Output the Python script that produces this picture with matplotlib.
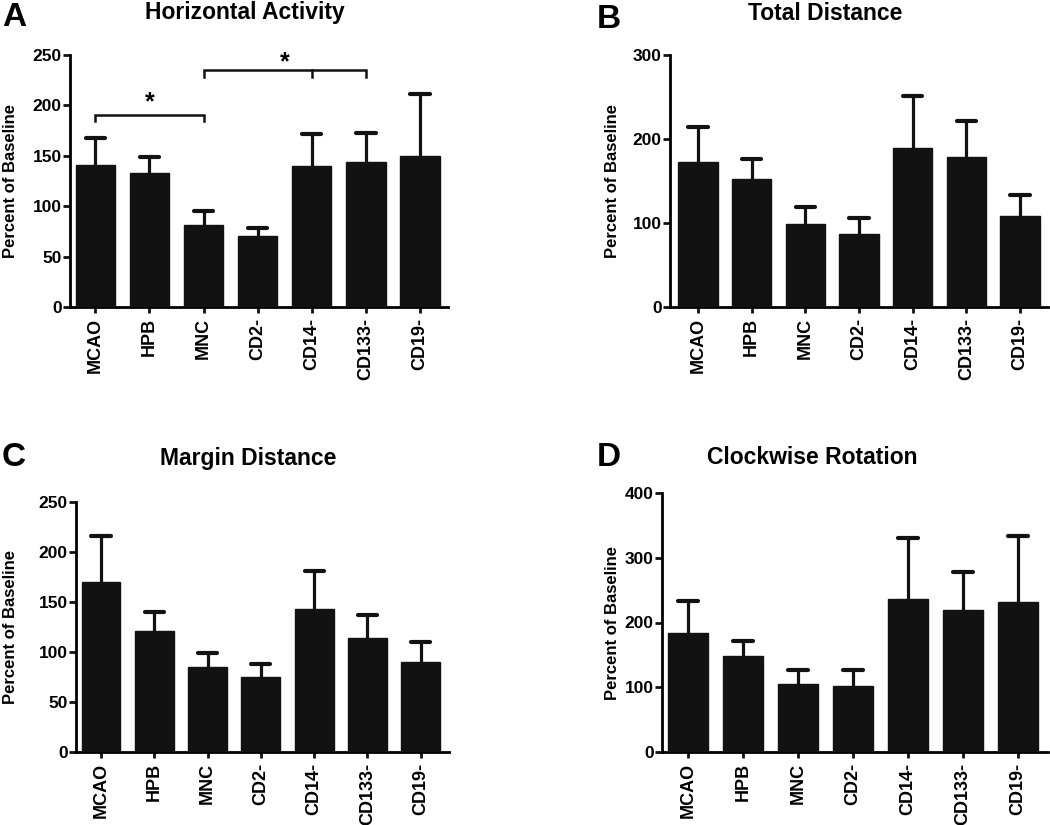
import matplotlib
matplotlib.use("Agg")
import matplotlib.pyplot as plt
import numpy as np

plt.rcParams['font.family'] = ['Liberation Sans', 'DejaVu Sans']

categories = ["MCAO", "HPB", "MNC", "CD2-", "CD14-", "CD133-", "CD19-"]

A_mean = [141, 133, 81, 70, 140, 144, 150]
A_top = [168, 149, 95, 78, 172, 173, 211]
B_mean = [173, 152, 99, 87, 189, 178, 108]
B_top = [214, 176, 119, 106, 251, 221, 133]
C_mean = [170, 121, 85, 75, 143, 114, 90]
C_top = [216, 140, 99, 88, 181, 137, 110]
D_mean = [184, 148, 105, 102, 237, 219, 232]
D_top = [233, 172, 127, 126, 330, 278, 334]

titles = ["Horizontal Activity", "Total Distance", "Margin Distance", "Clockwise Rotation"]
letters = ["A", "B", "C", "D"]
ymaxes = [250, 300, 250, 400]
ysteps = [50, 100, 50, 100]

# significance brackets in panel A: (start idx, end idx, middle ticks, bracket y, tick bottom y, star y)
brackets = [(0, 2, [], 190, 185, 203), (2, 5, [4], 235, 228, 243)]

fig = plt.figure(figsize=(10.5, 8.25), dpi=100)

W, H = 1050, 825
# axes pixel boxes: left, right, top, bottom
boxes = [(70, 448, 55, 307), (670, 1048, 55, 307), (76, 449, 502, 752), (662, 1048, 493, 752)]
xlims = [(-0.47, 6.52), (-0.52, 6.52), (-0.47, 6.53), (-0.47, 6.55)]
ylabel_x = [-0.138, -0.132, -0.155, -0.109]
title_pos = [(245, 13), (825, 13), (248, 458), (812, 458)]
letter_pos = [(2, 18), (597, 19), (2, 458), (597, 458)]

data = [(A_mean, A_top), (B_mean, B_top), (C_mean, C_top), (D_mean, D_top)]
bar_color = "#121212"
x = np.arange(len(categories))
cap_half = 0.18

for i in range(4):
    l, r, t, b = boxes[i]
    ax = fig.add_axes([l / W, 1 - b / H, (r - l) / W, (b - t) / H])
    mean, top = data[i]
    mean = np.array(mean)
    top = np.array(top)
    ax.vlines(x, mean - 1, top, colors=bar_color, linewidth=2.3, zorder=2)
    ax.hlines(top, x - cap_half, x + cap_half, colors=bar_color, linewidth=3.0,
              zorder=2, capstyle='round')
    ax.bar(x, mean, width=0.73, color=bar_color, edgecolor=bar_color, linewidth=1, zorder=3)
    ax.set_xlim(*xlims[i])
    ax.set_ylim(0, ymaxes[i])
    ax.set_yticks(np.arange(0, ymaxes[i] + 1, ysteps[i]))
    ax.set_xticks(x)
    ax.set_xticklabels(categories, rotation=90, fontweight='bold', fontsize=13)
    for lab in ax.get_yticklabels():
        lab.set_fontweight('bold')
        lab.set_fontsize(12.5)
    ax.spines['top'].set_visible(False)
    ax.spines['right'].set_visible(False)
    ax.spines['left'].set_linewidth(2)
    ax.spines['bottom'].set_linewidth(2)
    ax.tick_params(axis='y', width=2, length=5, pad=1, color='#111111')
    ax.tick_params(axis='x', width=2, length=4.5, pad=3, color='#111111')
    ax.set_ylabel("Percent of Baseline", fontsize=12, fontweight='bold')
    ax.yaxis.set_label_coords(ylabel_x[i], 0.5)
    tx, ty = title_pos[i]
    fig.text(tx / W, 1 - ty / H, titles[i], ha='center', va='center',
             fontsize=16.5, fontweight='bold')
    lx, ly = letter_pos[i]
    fig.text(lx / W, 1 - ly / H, letters[i], ha='left', va='center',
             fontsize=24, fontweight='bold')
    if i == 0:
        for s, e, mids, by, tb, sy in brackets:
            ax.plot([s, s, e, e], [tb, by, by, tb], color='#111111', lw=1.8,
                    clip_on=False, solid_joinstyle='miter')
            for m in mids:
                ax.plot([m, m], [by, tb], color='#111111', lw=1.8, clip_on=False)
            ax.text((s + e) / 2, sy, "*", ha='center', va='center',
                    fontsize=18, fontweight='bold')

fig.savefig("out.png", dpi=100)
